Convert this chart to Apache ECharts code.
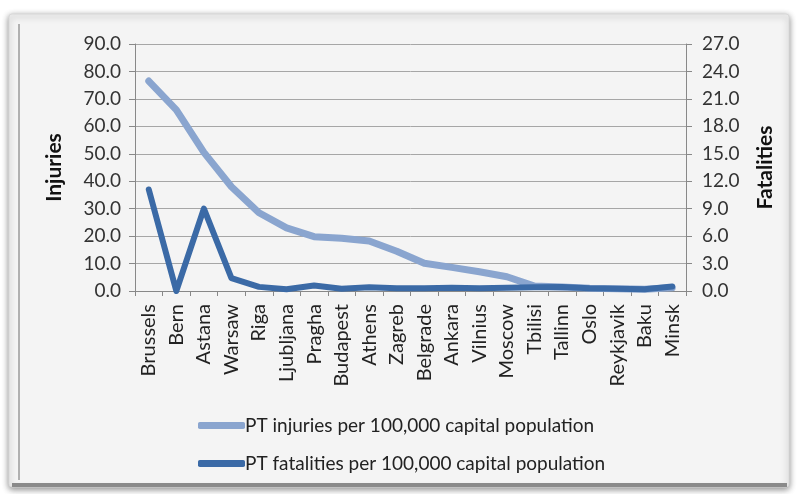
<!DOCTYPE html>
<html>
<head>
<meta charset="utf-8">
<script src="https://cdn.jsdelivr.net/npm/echarts@6/dist/echarts.min.js"></script>
<style>html,body{margin:0;padding:0;background:#fff;}#c{width:800px;height:494px;}</style>
</head>
<body>
<div id="c"></div>
<script>
const categories = ['Brussels','Bern','Astana','Warsaw','Riga','Ljubljana','Pragha','Budapest','Athens','Zagreb','Belgrade','Ankara','Vilnius','Moscow','Tbilisi','Tallinn','Oslo','Reykjavik','Baku','Minsk'];
const injuries = [76.5, 66.0, 50.5, 38.0, 28.5, 23.0, 19.8, 19.2, 18.2, 14.5, 10.1, 8.6, 7.0, 5.2, 1.8, 1.5, 1.0, 0.8, 0.6, 1.2];
const fatalities = [11.1, 0.0, 9.0, 1.4, 0.45, 0.2, 0.6, 0.25, 0.4, 0.3, 0.3, 0.35, 0.3, 0.35, 0.4, 0.45, 0.3, 0.25, 0.2, 0.5];
const seriesNames = ['PT injuries per 100,000 capital population', 'PT fatalities per 100,000 capital population'];
const leftAxis = {min: 0, max: 90, interval: 10, name: 'Injuries'};
const rightAxis = {min: 0, max: 27, interval: 3, name: 'Fatalities'};

const FONT = 'Lato';
const chart = echarts.init(document.getElementById('c'), null, {renderer: 'canvas'});
const tickLabel = {color: '#333', fontSize: 19, fontFamily: FONT};
const option = {
  backgroundColor: '#ffffff',
  animation: false,
  graphic: [
    {type: 'rect', z: -10, shape: {x: 9, y: 14, width: 780, height: 473, r: 3},
     style: {fill: '#f4f4f4', stroke: '#d8d8d8', lineWidth: 1, shadowBlur: 6, shadowColor: 'rgba(0,0,0,0.45)', shadowOffsetY: 2}},
    {type: 'line', z: -9, shape: {x1: 19, y1: 24, x2: 19, y2: 480}, style: {stroke: '#b0b0b0', lineWidth: 2}},
    {type: 'line', z: -9, shape: {x1: 12, y1: 485, x2: 787, y2: 485}, style: {stroke: '#8a8a8a', lineWidth: 4}}
  ],
  grid: {left: 135, right: 114, top: 44, bottom: 203},
  legend: {
    orient: 'vertical', left: 193, top: 411, itemWidth: 47, itemHeight: 7, itemGap: 19,
    icon: 'roundRect',
    textStyle: {color: '#222', fontSize: 19, fontFamily: FONT, padding: [0,0,0,-5]},
    data: seriesNames
  },
  xAxis: {
    type: 'category', data: categories, boundaryGap: true,
    axisLine: {lineStyle: {color: '#888', width: 1}},
    axisTick: {show: true, length: 5, lineStyle: {color: '#888'}},
    axisLabel: {rotate: 90, color: '#222', fontSize: 20, fontFamily: FONT, interval: 0, margin: 13}
  },
  yAxis: [
    {type: 'value', position: 'left', min: leftAxis.min, max: leftAxis.max, interval: leftAxis.interval,
     name: leftAxis.name, nameLocation: 'middle', nameRotate: 90, nameGap: 70,
     nameTextStyle: {fontWeight: 'bold', fontSize: 21, color: '#111', fontFamily: FONT},
     axisLine: {show: true, lineStyle: {color: '#888'}},
     axisTick: {show: true, length: 6, lineStyle: {color: '#888'}},
     axisLabel: Object.assign({formatter: v => v.toFixed(1), margin: 14}, tickLabel),
     splitLine: {show: true, lineStyle: {color: '#a6a6a6', width: 1}}},
    {type: 'value', position: 'right', min: rightAxis.min, max: rightAxis.max, interval: rightAxis.interval,
     name: rightAxis.name, nameLocation: 'middle', nameRotate: 90, nameGap: 69,
     nameTextStyle: {fontWeight: 'bold', fontSize: 21, color: '#111', fontFamily: FONT},
     axisLine: {show: true, lineStyle: {color: '#888'}},
     axisTick: {show: true, length: 6, lineStyle: {color: '#888'}},
     axisLabel: Object.assign({formatter: v => v.toFixed(1), margin: 16}, tickLabel),
     splitLine: {show: false}}
  ],
  series: [
    {name: seriesNames[0], type: 'line', yAxisIndex: 0, data: injuries, symbol: 'none',
     color: '#8aa5cf', lineStyle: {width: 7, color: '#8aa5cf', cap: 'round', join: 'round'}, z: 2},
    {name: seriesNames[1], type: 'line', yAxisIndex: 1, data: fatalities, symbol: 'none',
     color: '#3b6aa6', lineStyle: {width: 6, color: '#3b6aa6', cap: 'round', join: 'round'}, z: 3}
  ]
};
chart.setOption(option);
</script>
</body>
</html>
